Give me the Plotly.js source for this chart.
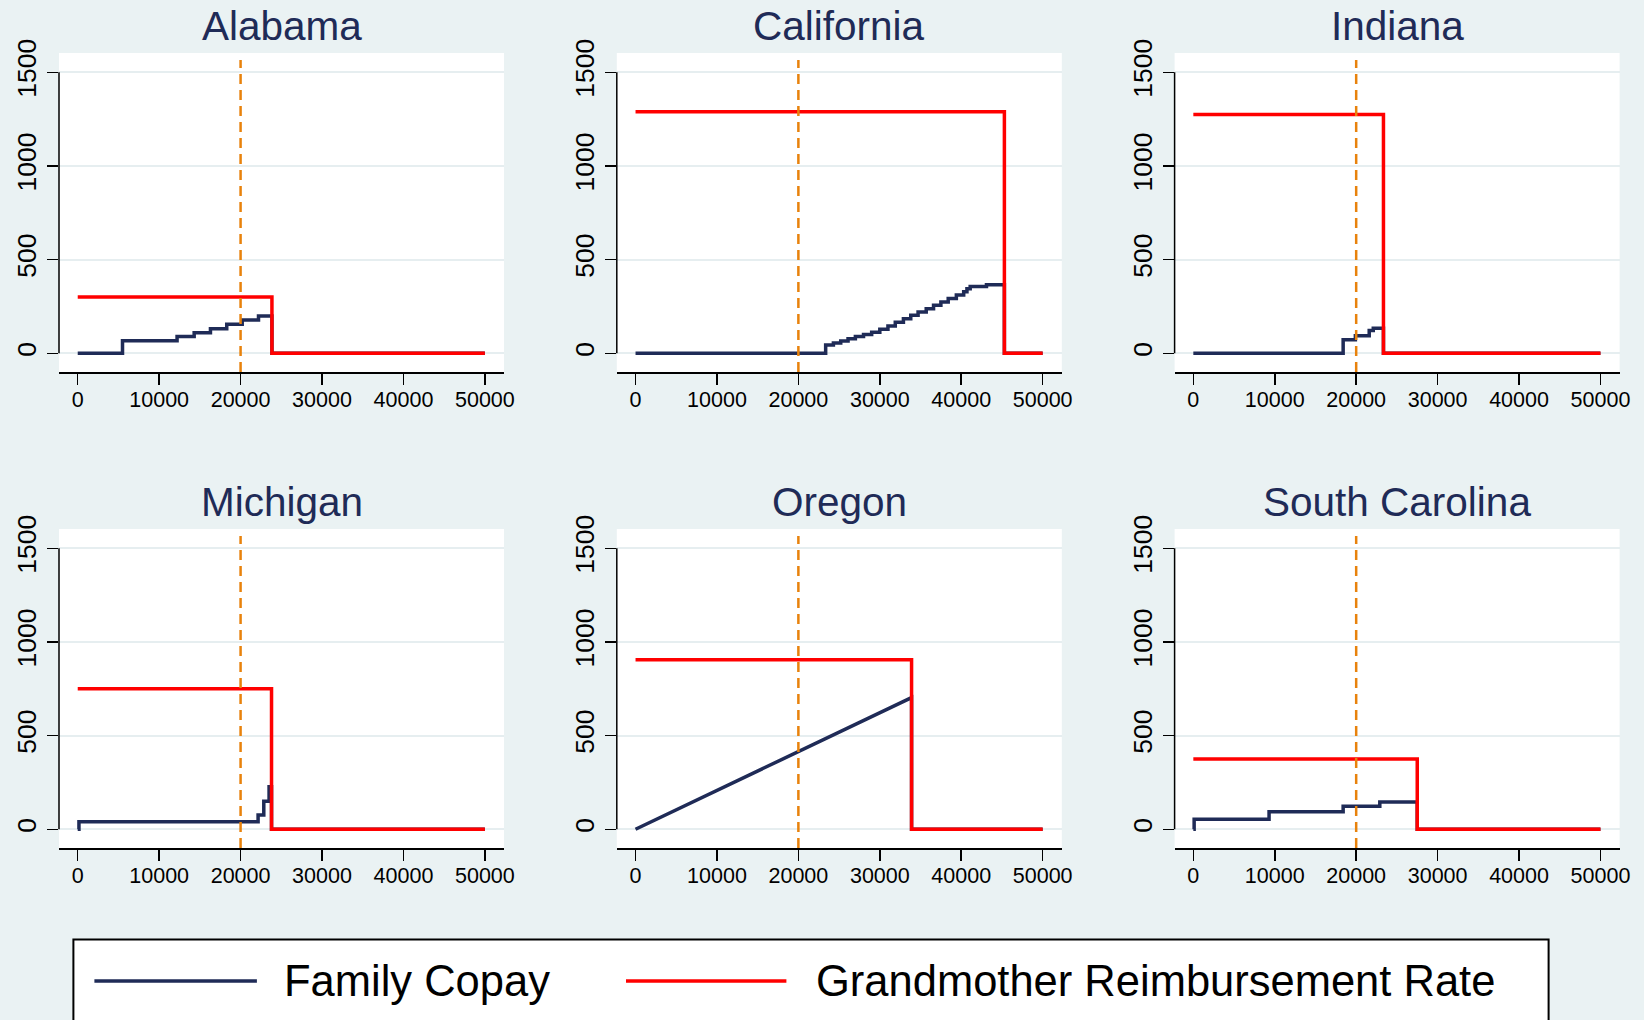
<!DOCTYPE html>
<html>
<head>
<meta charset="utf-8">
<script src="https://cdn.plot.ly/plotly-3.0.1.min.js"></script>
<style>
html,body{margin:0;padding:0;background:#eaf2f3;}
#chart{width:1644px;height:1020px;}
</style>
</head>
<body>
<div id="chart"></div>
<script>
// ---------------- DATA ----------------
const states = ["Alabama", "California", "Indiana", "Michigan", "Oregon", "South Carolina"];
const xTickVals = [0, 10000, 20000, 30000, 40000, 50000];
const xTickText = ["0", "10000", "20000", "30000", "40000", "50000"];
const yTickVals = [0, 500, 1000, 1500];
const yTickText = ["0", "500", "1000", "1500"];
const threshold = 20000;
const seriesNames = ["Family Copay", "Grandmother Reimbursement Rate"];

// Family copay (income where each step starts, copay value)
const alCopayX = [0, 5500, 12200, 14300, 16300, 18300, 20200, 22200, 23850, 50000];
const alCopayY = [0, 67, 89, 110, 131, 155, 177, 199, 0, 0];
const caCopayX = [0, 23350, 24300, 25200, 26100, 27000, 28000, 29000, 30000, 31000, 31900, 32900, 33800, 34700, 35700, 36600, 37500, 38400, 39400, 40300, 40700, 41100, 43100, 45300, 50000];
const caCopayY = [0, 44, 55, 66, 77, 89, 100, 112, 128, 145, 165, 184, 203, 220, 238, 256, 274, 292, 311, 328, 345, 356, 366, 0, 0];
const inCopayX = [0, 18400, 19900, 21600, 22100, 23350, 50000];
const inCopayY = [0, 72, 93, 121, 133, 0, 0];
const miCopayX = [0, 150, 22150, 22850, 23500, 23800, 50000];
const miCopayY = [0, 40, 76, 150, 227, 0, 0];
const orCopayX = [0, 33900, 33900, 50000];
const orCopayY = [0, 703, 0, 0];
const scCopayX = [0, 100, 9300, 18400, 22900, 27500, 50000];
const scCopayY = [0, 53, 94, 123, 146, 0, 0];

// Grandmother reimbursement rate (flat rate until cutoff income, then 0)
const alRateX = [0, 23850, 50000];
const alRateY = [300, 0, 0];
const caRateX = [0, 45300, 50000];
const caRateY = [1290, 0, 0];
const inRateX = [0, 23350, 50000];
const inRateY = [1275, 0, 0];
const miRateX = [0, 23800, 50000];
const miRateY = [750, 0, 0];
const orRateX = [0, 33900, 50000];
const orRateY = [905, 0, 0];
const scRateX = [0, 27500, 50000];
const scRateY = [375, 0, 0];

// ---------------- STYLE ----------------
const NAVY = "#1f2b57";
const RED = "#ff0000";
const ORANGE = "#e8820c";
const BG = "#eaf2f3";
const GRID = "#e6eef0";
const FONT = "Liberation Sans, Arial, Helvetica, sans-serif";
const W = 1644, H = 1020;

const panels = [
  {cx: alCopayX, cy: alCopayY, rx: alRateX, ry: alRateY, shape: "hv"},
  {cx: caCopayX, cy: caCopayY, rx: caRateX, ry: caRateY, shape: "hv"},
  {cx: inCopayX, cy: inCopayY, rx: inRateX, ry: inRateY, shape: "hv"},
  {cx: miCopayX, cy: miCopayY, rx: miRateX, ry: miRateY, shape: "hv"},
  {cx: orCopayX, cy: orCopayY, rx: orRateX, ry: orRateY, shape: "linear"},
  {cx: scCopayX, cy: scCopayY, rx: scRateX, ry: scRateY, shape: "hv"}
];

// pixel boxes of the plot areas
const colPx = [[59, 504], [616.8, 1061.8], [1174.6, 1619.6]];
const rowPx = [[53, 372], [529, 848]];
const titleCapMid = [25.9, 502.0];

const traces = [];
const shapes = [];
const annotations = [];
const layout = {
  width: W, height: H,
  margin: {l: 0, r: 0, t: 0, b: 0, pad: 0},
  paper_bgcolor: BG,
  plot_bgcolor: "#ffffff",
  showlegend: false,
  font: {family: FONT, color: "#000"}
};

panels.forEach((p, i) => {
  const col = i % 3, row = Math.floor(i / 3);
  const s = i === 0 ? "" : String(i + 1);
  const xd = [colPx[col][0] / W, colPx[col][1] / W];
  const yd = [1 - rowPx[row][1] / H, 1 - rowPx[row][0] / H];

  traces.push({
    x: p.cx, y: p.cy, xaxis: "x" + s, yaxis: "y" + s,
    type: "scatter", mode: "lines", name: seriesNames[0],
    line: {color: NAVY, width: 3.5, shape: p.shape},
    hoverinfo: "skip"
  });
  traces.push({
    x: p.rx, y: p.ry, xaxis: "x" + s, yaxis: "y" + s,
    type: "scatter", mode: "lines", name: seriesNames[1],
    line: {color: RED, width: 3.5, shape: "hv"},
    hoverinfo: "skip"
  });

  layout["xaxis" + s] = {
    domain: xd, anchor: "y" + s, range: [-2300, 52350],
    tickmode: "array", tickvals: xTickVals, ticktext: xTickText,
    ticks: "outside", ticklen: 11, tickwidth: 1.5, tickcolor: "#000",
    ticklabelstandoff: -3,
    showline: true, linecolor: "#000", linewidth: 1.5,
    showgrid: false, zeroline: false, fixedrange: true,
    tickfont: {family: FONT, size: 21.5, color: "#000"}
  };
  layout["yaxis" + s] = {
    domain: yd, anchor: "x" + s, range: [-100, 1603],
    tickmode: "array", tickvals: yTickVals, ticktext: yTickText,
    ticks: "outside", ticklen: 11, tickwidth: 1.5, tickcolor: "#000",
    tickangle: -90,
    showline: false, showgrid: true, gridcolor: GRID, gridwidth: 2,
    zeroline: false, fixedrange: true,
    tickfont: {family: FONT, size: 26.5, color: "#000"}
  };

  // vertical reference line at the threshold income
  shapes.push({
    type: "line", xref: "x" + s, yref: "y" + s + " domain",
    x0: threshold, x1: threshold, y0: 0, y1: 0.978,
    line: {color: ORANGE, width: 2.5, dash: "10px,6px"}, layer: "above"
  });
  // y axis line spanning 0..1500
  shapes.push({
    type: "line", xref: "x" + s + " domain", yref: "y" + s,
    x0: 0, x1: 0, y0: yTickVals[0], y1: yTickVals[yTickVals.length - 1],
    line: {color: "#000", width: 1.5}, layer: "above"
  });

  annotations.push({
    text: states[i], xref: "paper", yref: "paper",
    x: (xd[0] + xd[1]) / 2, y: 1 - titleCapMid[row] / H,
    xanchor: "center", yanchor: "middle", showarrow: false,
    font: {family: FONT, size: 40.5, color: NAVY}
  });
});

// legend box (drawn manually to match the wide key samples)
const legTop = 939.4, legY = 981.0;
shapes.push({
  type: "rect", xref: "paper", yref: "paper",
  x0: 73.4 / W, x1: 1548.6 / W, y0: -0.1, y1: 1 - legTop / H,
  fillcolor: "#ffffff", line: {color: "#000", width: 2}, layer: "below"
});
shapes.push({
  type: "line", xref: "paper", yref: "paper",
  x0: 94.4 / W, x1: 256.9 / W, y0: 1 - legY / H, y1: 1 - legY / H,
  line: {color: NAVY, width: 3.5}
});
shapes.push({
  type: "line", xref: "paper", yref: "paper",
  x0: 626 / W, x1: 786.4 / W, y0: 1 - legY / H, y1: 1 - legY / H,
  line: {color: RED, width: 3.5}
});
annotations.push({
  text: seriesNames[0], xref: "paper", yref: "paper",
  x: 282 / W, y: 1 - legY / H, xanchor: "left", yanchor: "middle",
  showarrow: false, font: {family: FONT, size: 43.5, color: "#000"}
});
annotations.push({
  text: seriesNames[1], xref: "paper", yref: "paper",
  x: 813.5 / W, y: 1 - legY / H, xanchor: "left", yanchor: "middle",
  showarrow: false, font: {family: FONT, size: 43.5, color: "#000"}
});

layout.shapes = shapes;
layout.annotations = annotations;

Plotly.newPlot("chart", traces, layout, {displayModeBar: false, staticPlot: true});
</script>
</body>
</html>
